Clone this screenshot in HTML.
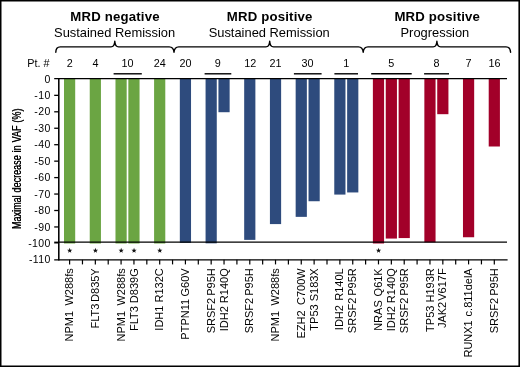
<!DOCTYPE html>
<html><head><meta charset="utf-8"><title>chart</title>
<style>
html,body{margin:0;padding:0;background:#fff;}
body{width:520px;height:367px;overflow:hidden;position:relative;}
svg{position:absolute;left:0;top:0;display:block;will-change:transform;}
text{font-family:"Liberation Sans",sans-serif;fill:#000;}
</style></head><body>
<svg width="520" height="367" viewBox="0 0 520 367">
<rect x="0" y="0" width="520" height="367" fill="#fff"/>

<rect x="64.00" y="78.60" width="11.2" height="164.89" fill="#6BA543"/>
<rect x="89.74" y="78.60" width="11.2" height="164.89" fill="#6BA543"/>
<rect x="115.48" y="78.60" width="11.2" height="164.89" fill="#6BA543"/>
<rect x="128.35" y="78.60" width="11.2" height="164.89" fill="#6BA543"/>
<rect x="154.09" y="78.60" width="11.2" height="164.89" fill="#6BA543"/>
<rect x="179.83" y="78.60" width="11.2" height="164.24" fill="#2E4B7D"/>
<rect x="205.57" y="78.60" width="11.2" height="164.73" fill="#2E4B7D"/>
<rect x="218.44" y="78.60" width="11.2" height="33.62" fill="#2E4B7D"/>
<rect x="244.18" y="78.60" width="11.2" height="161.28" fill="#2E4B7D"/>
<rect x="269.92" y="78.60" width="11.2" height="145.49" fill="#2E4B7D"/>
<rect x="295.66" y="78.60" width="11.2" height="138.26" fill="#2E4B7D"/>
<rect x="308.53" y="78.60" width="11.2" height="122.64" fill="#2E4B7D"/>
<rect x="334.27" y="78.60" width="11.2" height="115.98" fill="#2E4B7D"/>
<rect x="347.14" y="78.60" width="11.2" height="113.85" fill="#2E4B7D"/>
<rect x="372.88" y="78.60" width="11.2" height="164.89" fill="#A20029"/>
<rect x="385.75" y="78.60" width="11.2" height="159.96" fill="#A20029"/>
<rect x="398.62" y="78.60" width="11.2" height="159.47" fill="#A20029"/>
<rect x="424.36" y="78.60" width="11.2" height="163.74" fill="#A20029"/>
<rect x="437.23" y="78.60" width="11.2" height="35.59" fill="#A20029"/>
<rect x="462.97" y="78.60" width="11.2" height="158.65" fill="#A20029"/>
<rect x="488.71" y="78.60" width="11.2" height="67.90" fill="#A20029"/>
<g stroke="#000" fill="none">
<line x1="58.8" y1="78.05" x2="58.8" y2="260.5" stroke-width="1.55"/>
<line x1="54.2" y1="78.69999999999999" x2="507.0" y2="78.69999999999999" stroke-width="1.25"/>
<line x1="54.2" y1="242.55" x2="58.8" y2="242.55" stroke-width="1.9"/>
<line x1="58.8" y1="242.15" x2="507.0" y2="242.15" stroke-width="1.4"/>
<line x1="54.2" y1="259.85" x2="507.6" y2="259.85" stroke-width="1.45"/>
<line x1="54.2" y1="95.35" x2="58.8" y2="95.35" stroke-width="1.3"/>
<line x1="54.2" y1="111.80" x2="58.8" y2="111.80" stroke-width="1.3"/>
<line x1="54.2" y1="128.25" x2="58.8" y2="128.25" stroke-width="1.3"/>
<line x1="54.2" y1="144.70" x2="58.8" y2="144.70" stroke-width="1.3"/>
<line x1="54.2" y1="161.15" x2="58.8" y2="161.15" stroke-width="1.3"/>
<line x1="54.2" y1="177.60" x2="58.8" y2="177.60" stroke-width="1.3"/>
<line x1="54.2" y1="194.05" x2="58.8" y2="194.05" stroke-width="1.3"/>
<line x1="54.2" y1="210.50" x2="58.8" y2="210.50" stroke-width="1.3"/>
<line x1="54.2" y1="226.95" x2="58.8" y2="226.95" stroke-width="1.3"/>
<line x1="69.60" y1="259.85" x2="69.60" y2="264.4" stroke-width="1.2"/>
<line x1="82.47" y1="259.85" x2="82.47" y2="264.4" stroke-width="1.2"/>
<line x1="95.34" y1="259.85" x2="95.34" y2="264.4" stroke-width="1.2"/>
<line x1="108.21" y1="259.85" x2="108.21" y2="264.4" stroke-width="1.2"/>
<line x1="121.08" y1="259.85" x2="121.08" y2="264.4" stroke-width="1.2"/>
<line x1="133.95" y1="259.85" x2="133.95" y2="264.4" stroke-width="1.2"/>
<line x1="146.82" y1="259.85" x2="146.82" y2="264.4" stroke-width="1.2"/>
<line x1="159.69" y1="259.85" x2="159.69" y2="264.4" stroke-width="1.2"/>
<line x1="172.56" y1="259.85" x2="172.56" y2="264.4" stroke-width="1.2"/>
<line x1="185.43" y1="259.85" x2="185.43" y2="264.4" stroke-width="1.2"/>
<line x1="198.30" y1="259.85" x2="198.30" y2="264.4" stroke-width="1.2"/>
<line x1="211.17" y1="259.85" x2="211.17" y2="264.4" stroke-width="1.2"/>
<line x1="224.04" y1="259.85" x2="224.04" y2="264.4" stroke-width="1.2"/>
<line x1="236.91" y1="259.85" x2="236.91" y2="264.4" stroke-width="1.2"/>
<line x1="249.78" y1="259.85" x2="249.78" y2="264.4" stroke-width="1.2"/>
<line x1="262.65" y1="259.85" x2="262.65" y2="264.4" stroke-width="1.2"/>
<line x1="275.52" y1="259.85" x2="275.52" y2="264.4" stroke-width="1.2"/>
<line x1="288.39" y1="259.85" x2="288.39" y2="264.4" stroke-width="1.2"/>
<line x1="301.26" y1="259.85" x2="301.26" y2="264.4" stroke-width="1.2"/>
<line x1="314.13" y1="259.85" x2="314.13" y2="264.4" stroke-width="1.2"/>
<line x1="327.00" y1="259.85" x2="327.00" y2="264.4" stroke-width="1.2"/>
<line x1="339.87" y1="259.85" x2="339.87" y2="264.4" stroke-width="1.2"/>
<line x1="352.74" y1="259.85" x2="352.74" y2="264.4" stroke-width="1.2"/>
<line x1="365.61" y1="259.85" x2="365.61" y2="264.4" stroke-width="1.2"/>
<line x1="378.48" y1="259.85" x2="378.48" y2="264.4" stroke-width="1.2"/>
<line x1="391.35" y1="259.85" x2="391.35" y2="264.4" stroke-width="1.2"/>
<line x1="404.22" y1="259.85" x2="404.22" y2="264.4" stroke-width="1.2"/>
<line x1="417.09" y1="259.85" x2="417.09" y2="264.4" stroke-width="1.2"/>
<line x1="429.96" y1="259.85" x2="429.96" y2="264.4" stroke-width="1.2"/>
<line x1="442.83" y1="259.85" x2="442.83" y2="264.4" stroke-width="1.2"/>
<line x1="455.70" y1="259.85" x2="455.70" y2="264.4" stroke-width="1.2"/>
<line x1="468.57" y1="259.85" x2="468.57" y2="264.4" stroke-width="1.2"/>
<line x1="481.44" y1="259.85" x2="481.44" y2="264.4" stroke-width="1.2"/>
<line x1="494.31" y1="259.85" x2="494.31" y2="264.4" stroke-width="1.2"/>
<line x1="113.6" y1="73.8" x2="141.8" y2="73.8" stroke-width="1.4"/>
<line x1="204.6" y1="73.8" x2="231.3" y2="73.8" stroke-width="1.4"/>
<line x1="293.9" y1="73.8" x2="321.6" y2="73.8" stroke-width="1.4"/>
<line x1="334.4" y1="73.8" x2="358.0" y2="73.8" stroke-width="1.4"/>
<line x1="371.2" y1="73.8" x2="411.7" y2="73.8" stroke-width="1.4"/>
<line x1="424.1" y1="73.8" x2="449.0" y2="73.8" stroke-width="1.4"/>
<path d="M55.8 52.3 C55.8 49 57.2 46.9 60.3 46.9 L111.0 46.9 C113.4 46.9 114.6 45.3 114.8 41.3 C115.0 45.3 116.2 46.9 118.6 46.9 L169.2 46.9 C172.2 46.9 173.7 48.5 174.0 52.3 C174.3 48.5 175.8 46.9 178.8 46.9 L265.9 46.9 C268.3 46.9 269.5 45.3 269.7 41.3 C269.9 45.3 271.1 46.9 273.5 46.9 L358.4 46.9 C361.4 46.9 362.9 48.5 363.2 52.3 C363.5 48.5 365.0 46.9 368.0 46.9 L433.1 46.9 C435.5 46.9 436.7 45.3 436.9 41.3 C437.1 45.3 438.3 46.9 440.7 46.9 L506 46.9 C509 46.9 510.4 49.2 510.6 52.3" stroke-width="1.4" stroke-linecap="round" stroke-linejoin="round"/>
</g>
<g text-anchor="middle">
<text x="115.0" y="21.2" font-size="13.2" font-weight="bold" letter-spacing="0.18">MRD negative</text>
<text x="114.6" y="36.5" font-size="12.9">Sustained Remission</text>
<text x="269.7" y="21.2" font-size="13.2" font-weight="bold" letter-spacing="0.18">MRD positive</text>
<text x="269.2" y="36.5" font-size="12.9">Sustained Remission</text>
<text x="437.3" y="21.2" font-size="13.2" font-weight="bold" letter-spacing="0.18">MRD positive</text>
<text x="434.9" y="36.5" font-size="12.9">Progression</text>
<text x="69.7" y="67.0" font-size="10.8">2</text>
<text x="95.4" y="67.0" font-size="10.8">4</text>
<text x="127.6" y="67.0" font-size="10.8">10</text>
<text x="159.7" y="67.0" font-size="10.8">24</text>
<text x="185.6" y="67.0" font-size="10.8">20</text>
<text x="217.8" y="67.0" font-size="10.8">9</text>
<text x="250.2" y="67.0" font-size="10.8">12</text>
<text x="275.6" y="67.0" font-size="10.8">21</text>
<text x="307.5" y="67.0" font-size="10.8">30</text>
<text x="346.3" y="67.0" font-size="10.8">1</text>
<text x="391.3" y="67.0" font-size="10.8">5</text>
<text x="436.5" y="67.0" font-size="10.8">8</text>
<text x="468.5" y="67.0" font-size="10.8">7</text>
<text x="494.6" y="67.0" font-size="10.8">16</text>
</g>
<text x="27.3" y="67.0" font-size="10.8">Pt. #</text>
<g text-anchor="end" font-size="10.5" letter-spacing="0.35">
<text x="50.6" y="82.60">0</text>
<text x="50.6" y="98.95">-10</text>
<text x="50.6" y="115.40">-20</text>
<text x="50.6" y="131.85">-30</text>
<text x="50.6" y="148.30">-40</text>
<text x="50.6" y="164.75">-50</text>
<text x="50.6" y="181.20">-60</text>
<text x="50.6" y="197.65">-70</text>
<text x="50.6" y="214.10">-80</text>
<text x="50.6" y="230.55">-90</text>
<text x="50.6" y="247.00">-100</text>
<text x="50.6" y="263.45">-110</text>
</g>
<polygon points="69.70,247.85 70.38,249.67 72.32,249.75 70.79,250.96 71.32,252.82 69.70,251.75 68.08,252.82 68.61,250.96 67.08,249.75 69.02,249.67" fill="#111"/>
<polygon points="95.44,247.85 96.12,249.67 98.06,249.75 96.53,250.96 97.06,252.82 95.44,251.75 93.82,252.82 94.35,250.96 92.82,249.75 94.76,249.67" fill="#111"/>
<polygon points="121.18,247.85 121.86,249.67 123.80,249.75 122.27,250.96 122.80,252.82 121.18,251.75 119.56,252.82 120.09,250.96 118.56,249.75 120.50,249.67" fill="#111"/>
<polygon points="134.05,247.85 134.73,249.67 136.67,249.75 135.14,250.96 135.67,252.82 134.05,251.75 132.43,252.82 132.96,250.96 131.43,249.75 133.37,249.67" fill="#111"/>
<polygon points="159.79,247.85 160.47,249.67 162.41,249.75 160.88,250.96 161.41,252.82 159.79,251.75 158.17,252.82 158.70,250.96 157.17,249.75 159.11,249.67" fill="#111"/>
<polygon points="378.58,247.85 379.26,249.67 381.20,249.75 379.67,250.96 380.20,252.82 378.58,251.75 376.96,252.82 377.49,250.96 375.96,249.75 377.90,249.67" fill="#111"/>
<text transform="translate(73.15 268.3) rotate(-90)" text-anchor="end" font-size="11.0" word-spacing="2.3">NPM1 W288fs</text>
<text transform="translate(98.89 268.3) rotate(-90)" text-anchor="end" font-size="11.0" word-spacing="-1.3">FLT3 D835Y</text>
<text transform="translate(124.63 268.3) rotate(-90)" text-anchor="end" font-size="11.0" word-spacing="2.3">NPM1 W288fs</text>
<text transform="translate(137.50 268.3) rotate(-90)" text-anchor="end" font-size="11.0" word-spacing="0">FLT3 D839G</text>
<text transform="translate(163.24 268.3) rotate(-90)" text-anchor="end" font-size="11.0" word-spacing="0">IDH1 R132C</text>
<text transform="translate(188.98 268.3) rotate(-90)" text-anchor="end" font-size="11.0" word-spacing="-0.6">PTPN11 G60V</text>
<text transform="translate(214.72 268.3) rotate(-90)" text-anchor="end" font-size="11.0" word-spacing="-1.0">SRSF2 P95H</text>
<text transform="translate(227.59 268.3) rotate(-90)" text-anchor="end" font-size="11.0" word-spacing="0">IDH2 R140Q</text>
<text transform="translate(253.33 268.3) rotate(-90)" text-anchor="end" font-size="11.0" word-spacing="-1.0">SRSF2 P95H</text>
<text transform="translate(279.07 268.3) rotate(-90)" text-anchor="end" font-size="11.0" word-spacing="2.3">NPM1 W288fs</text>
<text transform="translate(304.81 268.3) rotate(-90)" text-anchor="end" font-size="11.0" word-spacing="2.3">EZH2 C700W</text>
<text transform="translate(317.68 268.3) rotate(-90)" text-anchor="end" font-size="11.0" word-spacing="0">TP53 S183X</text>
<text transform="translate(343.42 268.3) rotate(-90)" text-anchor="end" font-size="11.0" word-spacing="1.3">IDH2 R140L</text>
<text transform="translate(356.29 268.3) rotate(-90)" text-anchor="end" font-size="11.0" word-spacing="-1.2">SRSF2 P95R</text>
<text transform="translate(382.03 268.3) rotate(-90)" text-anchor="end" font-size="11.0" word-spacing="0.8">NRAS Q61K</text>
<text transform="translate(394.90 268.3) rotate(-90)" text-anchor="end" font-size="11.0" word-spacing="0">IDH2 R140Q</text>
<text transform="translate(407.77 268.3) rotate(-90)" text-anchor="end" font-size="11.0" word-spacing="-1.2">SRSF2 P95R</text>
<text transform="translate(433.51 268.3) rotate(-90)" text-anchor="end" font-size="11.0" word-spacing="0">TP53 H193R</text>
<text transform="translate(446.38 268.3) rotate(-90)" text-anchor="end" font-size="11.0" word-spacing="-2.0">JAK2 V617F</text>
<text transform="translate(472.12 268.3) rotate(-90)" text-anchor="end" font-size="11.0" word-spacing="0.8">RUNX1 c.811delA</text>
<text transform="translate(497.86 268.3) rotate(-90)" text-anchor="end" font-size="11.0" word-spacing="-1.0">SRSF2 P95H</text>
<text transform="translate(21.2 229.2) rotate(-90) scale(0.67 1)" x="0" font-size="13.5" word-spacing="0.6">Maximal decrease in VAF (%)</text>
<text transform="translate(21.2 229.2) rotate(-90) scale(0.67 1)" x="0.55" font-size="13.5" word-spacing="0.6">Maximal decrease in VAF (%)</text>
<rect x="0" y="0" width="520" height="1.5" fill="#000"/>
<rect x="0" y="0" width="1.5" height="367" fill="#000"/>
<rect x="518.4" y="0" width="1.6" height="367" fill="#000"/>
<rect x="0" y="365.5" width="520" height="1.5" fill="#000"/>
</svg></body></html>
